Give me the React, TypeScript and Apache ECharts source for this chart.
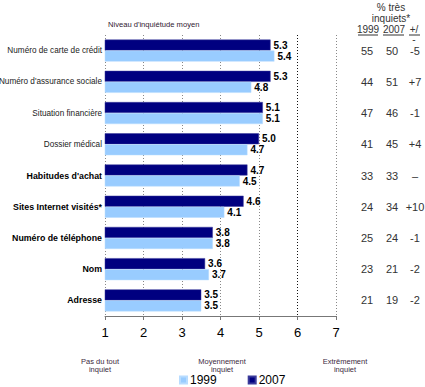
import React, { useEffect, useRef } from 'react';
import * as echarts from 'echarts';

const categories = [
  'Numéro de carte de crédit',
  "Numéro d'assurance sociale",
  'Situation financière',
  'Dossier médical',
  "Habitudes d'achat",
  'Sites Internet visités*',
  'Numéro de téléphone',
  'Nom',
  'Adresse',
];
const boldCategories = [false, false, false, false, true, true, true, true, true];
const values2007 = [5.3, 5.3, 5.1, 5.0, 4.7, 4.6, 3.8, 3.6, 3.5];
const values1999 = [5.4, 4.8, 5.1, 4.7, 4.5, 4.1, 3.8, 3.7, 3.5];
const pct1999 = ['55', '44', '47', '41', '33', '24', '25', '23', '21'];
const pct2007 = ['50', '51', '46', '45', '33', '34', '24', '21', '19'];
const pctDiff = ['-5', '+7', '-1', '+4', '–', '+10', '-1', '-2', '-2'];
const scaleLabels = ['Pas du tout\ninquiet', 'Moyennement\ninquiet', 'Extrêmement\ninquiet'];

const SANS = "'Liberation Sans', Arial, sans-serif";

export default function App() {
  const ref = useRef<HTMLDivElement>(null);
  useEffect(() => {
    if (!ref.current) return;
    const chart = echarts.init(ref.current, undefined, { renderer: 'svg' });
    const labelStyle = {
      fontSize: 10,
      fontWeight: 'bold' as const,
      color: '#000',
      fontFamily: SANS,
    };
    const scaleX = [100, 222, 345];
    chart.setOption({
      animation: false,
      backgroundColor: '#fff',
      grid: { left: 105, right: 89, top: 35, bottom: 71, containLabel: false, outerBoundsMode: 'none' },
      legend: {
        data: ['1999', '2007'],
        left: 179,
        top: 374,
        padding: 0,
        icon: 'rect',
        itemWidth: 7,
        itemHeight: 7,
        itemGap: 31,
        textStyle: { fontSize: 12, color: '#000', fontFamily: SANS, padding: [0, 0, 0, -2] },
      },
      xAxis: {
        type: 'value',
        min: 1,
        max: 7,
        interval: 1,
        axisLine: { show: true, lineStyle: { color: '#777', width: 1 } },
        axisTick: { show: true, length: 4, lineStyle: { color: '#777' } },
        axisLabel: { fontSize: 13, color: '#000', margin: 10, fontFamily: SANS },
        splitLine: {
          show: true,
          lineStyle: {
            type: [1, 2],
            color: ['#888', '#888', '#888', '#888', '#888', '#111', '#888'],
            width: 1,
          },
        },
      },
      yAxis: [
        {
          type: 'category',
          data: categories,
          inverse: true,
          axisLine: { show: false },
          axisTick: { show: false },
          axisLabel: {
            margin: 3,
            formatter: (v: string, i: number) => (boldCategories[i] ? `{b|${v}}` : `{n|${v}}`),
            rich: {
              n: { fontSize: 8.2, color: '#222', fontFamily: SANS },
              b: { fontSize: 8.8, color: '#000', fontFamily: SANS, fontWeight: 'bold' },
            },
          },
        },
        {
          type: 'category',
          data: categories,
          inverse: true,
          position: 'right',
          axisLine: { show: false },
          axisTick: { show: false },
          axisLabel: {
            margin: 21,
            formatter: (_v: string, i: number) => `{a|${pct1999[i]}}{b|${pct2007[i]}}{c|${pctDiff[i]}}`,
            rich: {
              a: { width: 20, align: 'center', fontSize: 11, color: '#333', fontFamily: SANS },
              b: { width: 30, align: 'center', fontSize: 11, color: '#333', fontFamily: SANS },
              c: { width: 16, align: 'center', fontSize: 11, color: '#333', fontFamily: SANS },
            },
          },
        },
      ],
      series: [
        {
          name: '2007',
          type: 'bar',
          yAxisIndex: 0,
          data: values2007,
          barWidth: 11,
          barGap: '0%',
          itemStyle: { color: '#000080', borderColor: '#3a3a9a', borderWidth: 0.5 },
          label: {
            show: true,
            position: 'right',
            distance: 3,
            formatter: (p: any) => Number(p.value).toFixed(1),
            ...labelStyle,
          },
        },
        {
          name: '1999',
          type: 'bar',
          yAxisIndex: 0,
          data: values1999,
          barWidth: 11,
          barGap: '0%',
          itemStyle: { color: '#99CCFF', borderColor: '#b8dcff', borderWidth: 0.5 },
          label: {
            show: true,
            position: 'right',
            distance: 3,
            formatter: (p: any) => Number(p.value).toFixed(1),
            ...labelStyle,
          },
        },
      ],
      graphic: [
        {
          type: 'text',
          x: 108,
          y: 20,
          style: { text: "Niveau d'inquiétude moyen", fontSize: 7.6, fill: '#302030', fontFamily: SANS },
        },
        {
          type: 'text',
          x: 391,
          y: 2,
          style: { text: '% très\ninquiets*', fontSize: 10, lineHeight: 11, fill: '#333', fontFamily: SANS, align: 'center' },
        },
        {
          type: 'text',
          x: 368,
          y: 24,
          style: { text: '1999', fontSize: 10, fill: '#333', fontFamily: SANS, align: 'center' },
        },
        {
          type: 'text',
          x: 394,
          y: 24,
          style: { text: '2007', fontSize: 10, fill: '#333', fontFamily: SANS, align: 'center' },
        },
        {
          type: 'text',
          x: 414,
          y: 24,
          style: { text: '+/\n-', fontSize: 10, lineHeight: 10, fill: '#333', fontFamily: SANS, align: 'center' },
        },
        { type: 'line', shape: { x1: 358, y1: 35, x2: 378, y2: 35 }, style: { stroke: '#333', lineWidth: 1 } },
        { type: 'line', shape: { x1: 383, y1: 35, x2: 404, y2: 35 }, style: { stroke: '#333', lineWidth: 1 } },
        { type: 'line', shape: { x1: 409, y1: 35, x2: 420, y2: 35 }, style: { stroke: '#333', lineWidth: 1 } },
        ...scaleLabels.map((t, i) => ({
          type: 'text',
          x: scaleX[i],
          y: 357,
          style: { text: t, fontSize: 7.5, lineHeight: 8, fill: '#402a40', fontFamily: SANS, align: 'center' },
        })),
      ],
    });
    return () => chart.dispose();
  }, []);
  return <div ref={ref} style={{ position: 'fixed', left: 0, top: 0, width: 425, height: 387 }} />;
}
